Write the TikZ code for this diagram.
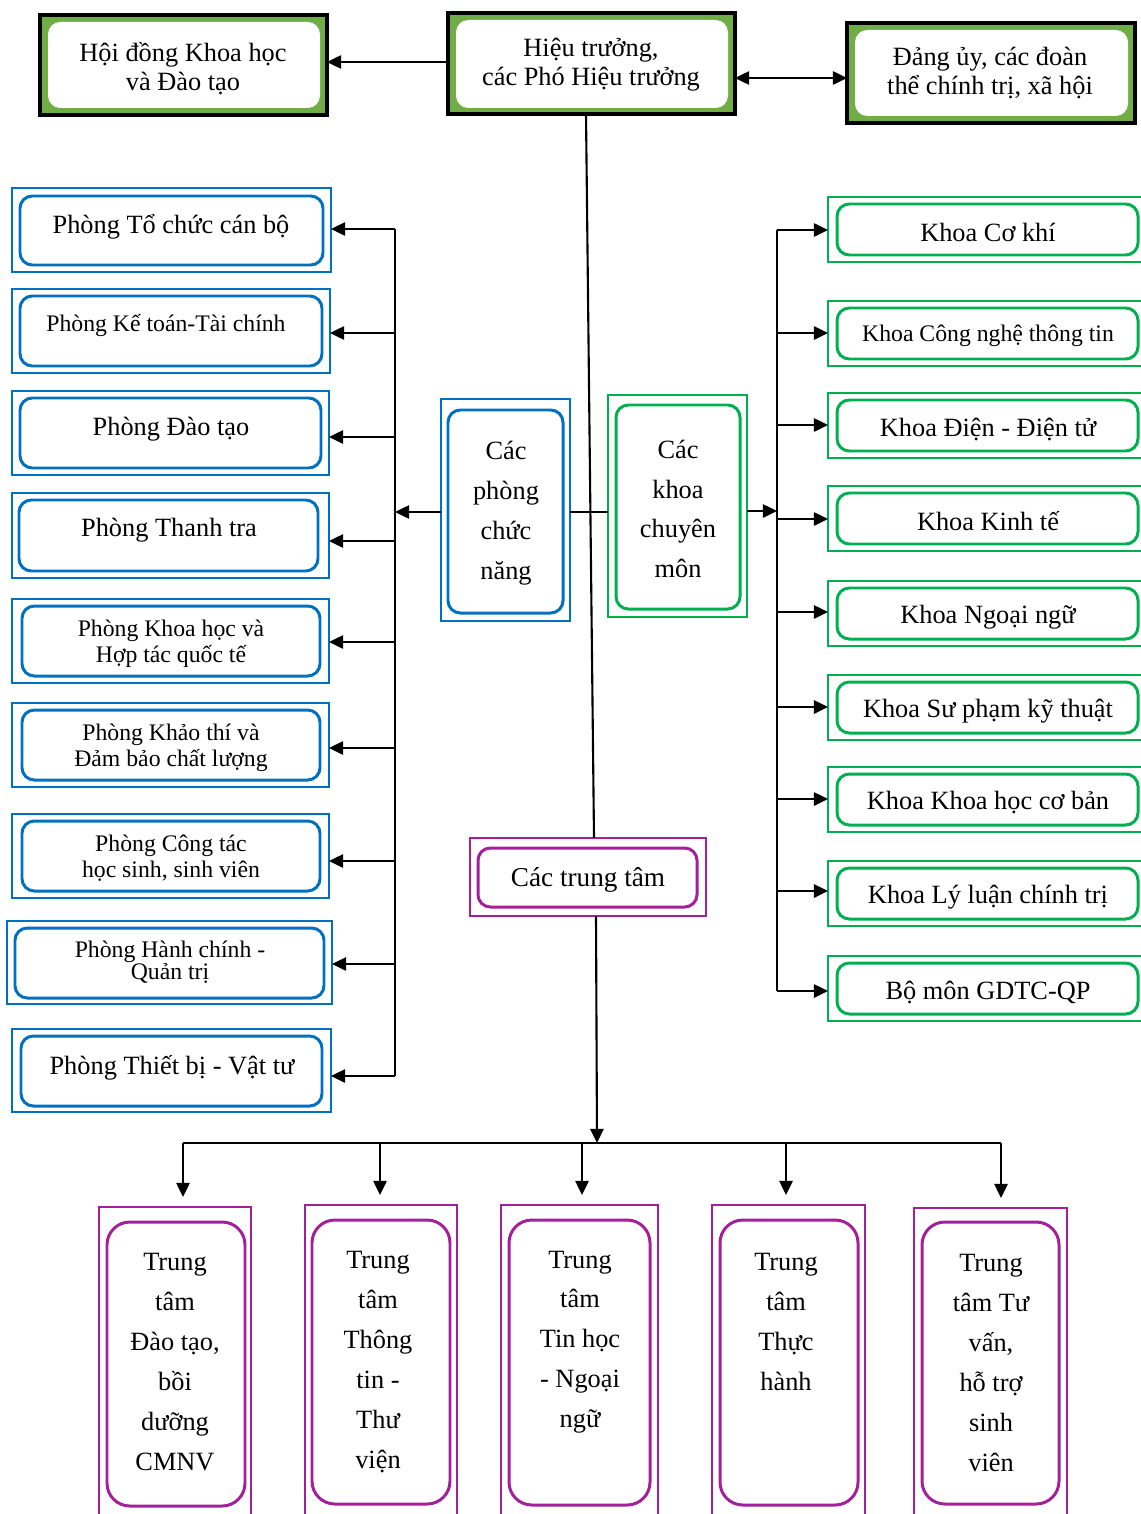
\documentclass[tikz,border=0pt]{standalone}
\usepackage{fontspec}
\setmainfont{Liberation Serif}
\usetikzlibrary{arrows.meta}
\definecolor{cblue}{HTML}{0070C0}
\definecolor{cgreen}{HTML}{00B050}
\definecolor{cpurple}{HTML}{A3209A}
\definecolor{tgreen}{HTML}{70AD47}
\newcommand\mybox[6]{\node[#6, minimum width={(#4-#2)*0.02cm}, minimum height={(#5-#3)*0.02cm}] (#1) at ({(#2+#4)/2},{(#3+#5)/2}) {};}
\tikzset{
 outerb/.style={draw=#1, line width=1.3pt, inner sep=0pt, outer sep=0pt},
 innerb/.style={draw=#1, line width=1.7pt, rounded corners=7pt, inner sep=0pt, outer sep=0pt},
 tallb/.style={draw=#1, line width=1.7pt, rounded corners=13pt, inner sep=0pt, outer sep=0pt},
 topouter/.style={draw=black, fill=tgreen, line width=1.8pt, inner sep=0pt, outer sep=0pt},
 topinner/.style={fill=white, rounded corners=7pt, inner sep=0pt, outer sep=0pt},
 arr/.style={line width=1.2pt, -{Triangle[length=8pt,width=7.5pt]}},
 darr/.style={line width=1.2pt, {Triangle[length=8pt,width=7.5pt]}-{Triangle[length=8pt,width=7.5pt]}},
 link/.style={line width=1.2pt},
 busline/.style={line width=0.9pt},
 lbl/.style={align=center, inner sep=0pt, yshift=-0.05cm, font=\fontsize{15}{16.5}\selectfont},
 sml/.style={align=center, inner sep=0pt, yshift=-0.05cm, font=\fontsize{13.5}{14.7}\selectfont},
 tall/.style={align=center, inner sep=0pt, font=\fontsize{15}{22.7}\selectfont},
}
\begin{document}
\begin{tikzpicture}[x=0.02cm,y=-0.02cm]
\useasboundingbox (0,0) rectangle (1141,1514);
% top boxes
\mybox{hd}{40}{15}{327}{115}{topouter}
\mybox{hdi}{48}{22}{320}{108}{topinner}
\node[lbl] (hdt) at (183,66) {Hội đồng Khoa học\\và Đào tạo};
\mybox{ht}{448}{13}{735}{114}{topouter}
\mybox{hti}{456}{20}{728}{108}{topinner}
\node[lbl] (htt) at (591,62) {Hiệu trưởng,\\các Phó Hiệu trưởng};
\mybox{du}{847}{23}{1135}{123}{topouter}
\mybox{dui}{855}{30}{1128}{116}{topinner}
\node[lbl] (dut) at (990,71) {Đảng ủy, các đoàn\\thể chính trị, xã hội};
% left boxes
\mybox{p1}{12}{188}{331}{272}{outerb=cblue}
\mybox{p1i}{20}{196}{323}{265}{innerb=cblue}
\node[lbl] (p1t) at (171,224) {Phòng Tổ chức cán bộ};
\mybox{p2}{12}{289}{330}{373}{outerb=cblue}
\mybox{p2i}{20}{296}{322}{366}{innerb=cblue}
\node[sml] (p2t) at (166,323) {Phòng Kế toán-Tài chính};
\mybox{p3}{12}{391}{329}{475}{outerb=cblue}
\mybox{p3i}{20}{398}{321}{468}{innerb=cblue}
\node[lbl] (p3t) at (171,427) {Phòng Đào tạo};
\mybox{p4}{12}{493}{329}{578}{outerb=cblue}
\mybox{p4i}{19}{500}{318}{571}{innerb=cblue}
\node[lbl] (p4t) at (169,528) {Phòng Thanh tra};
\mybox{p5}{12}{599}{329}{683}{outerb=cblue}
\mybox{p5i}{22}{606}{320}{676}{innerb=cblue}
\node[sml] (p5t) at (171,641) {Phòng Khoa học và\\Hợp tác quốc tế};
\mybox{p6}{12}{703}{329}{787}{outerb=cblue}
\mybox{p6i}{22}{710}{320}{780}{innerb=cblue}
\node[sml] (p6t) at (171,745) {Phòng Khảo thí và\\Đảm bảo chất lượng};
\mybox{p7}{12}{814}{329}{898}{outerb=cblue}
\mybox{p7i}{22}{821}{320}{891}{innerb=cblue}
\node[sml] (p7t) at (171,856) {Phòng Công tác\\học sinh, sinh viên};
\mybox{p8}{7}{921}{332}{1004}{outerb=cblue}
\mybox{p8i}{15}{928}{324}{998}{innerb=cblue}
\node[sml, font=\fontsize{13.5}{12.5}\selectfont] (p8t) at (170,960) {Phòng Hành chính -\\Quản trị};
\mybox{p9}{12}{1029}{331}{1112}{outerb=cblue}
\mybox{p9i}{21}{1036}{322}{1106}{innerb=cblue}
\node[lbl] (p9t) at (172,1065) {Phòng Thiết bị - Vật tư};
% middle boxes
\mybox{cp}{441}{399}{570}{621}{outerb=cblue}
\mybox{cpi}{448}{410}{563}{613}{innerb=cblue}
\node[tall] (cpt) at (506,513) {Các\\phòng\\chức\\năng};
\mybox{ck}{608}{395}{747}{617}{outerb=cgreen}
\mybox{cki}{616}{405}{740}{609}{innerb=cgreen}
\node[tall] (ckt) at (678,509) {Các\\khoa\\chuyên\\môn};
\mybox{ct}{470}{838}{706}{916}{outerb=cpurple}
\mybox{cti}{478}{848}{697}{907}{innerb=cpurple}
\node[lbl, font=\fontsize{15.5}{17}\selectfont] (ctt) at (588,877) {Các trung tâm};
% right boxes
\mybox{k1}{828}{197}{1146}{262}{outerb=cgreen}
\mybox{k1i}{837}{204}{1138}{255}{innerb=cgreen}
\node[lbl] (k1t) at (988,230) {Khoa Cơ khí};
\mybox{k2}{828}{301}{1146}{366}{outerb=cgreen}
\mybox{k2i}{837}{308}{1138}{359}{innerb=cgreen}
\node[sml] (k2t) at (988,333) {Khoa Công nghệ thông tin};
\mybox{k3}{828}{393}{1146}{458}{outerb=cgreen}
\mybox{k3i}{837}{400}{1138}{451}{innerb=cgreen}
\node[lbl] (k3t) at (988,427) {Khoa Điện - Điện tử};
\mybox{k4}{828}{486}{1146}{551}{outerb=cgreen}
\mybox{k4i}{837}{493}{1138}{544}{innerb=cgreen}
\node[lbl] (k4t) at (988,519) {Khoa Kinh tế};
\mybox{k5}{828}{581}{1146}{646}{outerb=cgreen}
\mybox{k5i}{837}{588}{1138}{639}{innerb=cgreen}
\node[lbl] (k5t) at (988,615) {Khoa Ngoại ngữ};
\mybox{k6}{828}{675}{1146}{740}{outerb=cgreen}
\mybox{k6i}{837}{682}{1138}{733}{innerb=cgreen}
\node[lbl] (k6t) at (988,709) {Khoa Sư phạm kỹ thuật};
\mybox{k7}{828}{767}{1146}{832}{outerb=cgreen}
\mybox{k7i}{837}{774}{1138}{825}{innerb=cgreen}
\node[lbl] (k7t) at (988,800) {Khoa Khoa học cơ bản};
\mybox{k8}{828}{861}{1146}{926}{outerb=cgreen}
\mybox{k8i}{837}{868}{1138}{919}{innerb=cgreen}
\node[lbl] (k8t) at (988,895) {Khoa Lý luận chính trị};
\mybox{k9}{828}{956}{1146}{1021}{outerb=cgreen}
\mybox{k9i}{837}{963}{1138}{1014}{innerb=cgreen}
\node[lbl] (k9t) at (988,990) {Bộ môn GDTC-QP};
% bottom boxes
\mybox{b1}{99}{1207}{251}{1530}{outerb=cpurple}
\mybox{b1i}{107}{1222}{245}{1506}{tallb=cpurple}
\node[tall] (b1t) at (175,1362) {Trung\\tâm\\Đào tạo,\\bồi\\dưỡng\\CMNV};
\mybox{b2}{305}{1205}{457}{1530}{outerb=cpurple}
\mybox{b2i}{312}{1220}{450}{1504}{tallb=cpurple}
\node[tall] (b2t) at (378,1362) {Trung\\tâm\\Thông\\tin -\\Thư\\viện};
\mybox{b3}{501}{1205}{658}{1530}{outerb=cpurple}
\mybox{b3i}{509}{1220}{650}{1505}{tallb=cpurple}
\node[tall] (b3t) at (580,1342) {Trung\\tâm\\Tin học\\- Ngoại\\ngữ};
\mybox{b4}{712}{1205}{865}{1530}{outerb=cpurple}
\mybox{b4i}{720}{1220}{858}{1505}{tallb=cpurple}
\node[tall] (b4t) at (786,1322) {Trung\\tâm\\Thực\\hành};
\mybox{b5}{914}{1208}{1067}{1530}{outerb=cpurple}
\mybox{b5i}{922}{1222}{1059}{1504}{tallb=cpurple}
\node[tall] (b5t) at (991,1363) {Trung\\tâm Tư\\vấn,\\hỗ trợ\\sinh\\viên};
% connectors top
\draw[arr] (ht.west |- 0,62) -- (hd.east |- 0,62);
\draw[darr] (ht.east |- 0,78) -- (du.west |- 0,78);
\draw[link] (ht.south -| 586,0) -- (ct.north -| 594,0);
\coordinate (hub) at (597,1143);
\draw[arr] (ct.south -| 596,0) -- (hub);
% left
\coordinate (lx) at (395,512);
\draw[busline] (lx |- 0,229) -- (lx |- 0,1076);
\foreach \i/\y in {1/229,2/333,3/437,4/541,5/642,6/748,7/861,8/964,9/1076} {\draw[arr] (lx |- 0,\y) -- (p\i.east |- 0,\y);}
\draw[arr] (cp.west |- lx) -- (lx);
\draw[link] (cp.east |- lx) -- (ck.west |- lx);
% right
\coordinate (rx) at (777,511);
\draw[arr] (ck.east |- rx) -- (rx);
\draw[busline] (rx |- 0,230) -- (rx |- 0,991);
\foreach \i/\y in {1/230,2/333,3/425,4/519,5/612,6/707,7/799,8/891,9/991} {\draw[arr] (rx |- 0,\y) -- (k\i.west |- 0,\y);}
% bottom
\coordinate (d1) at (183,1143);
\coordinate (d2) at (380,1143);
\coordinate (d3) at (582,1143);
\coordinate (d4) at (786,1143);
\coordinate (d5) at (1001,1143);
\draw[busline] (d1) -- (d5);
\foreach \i in {1,...,5} {\draw[arr, shorten >=5.7pt] (d\i) -- (d\i |- b\i.north);}
\end{tikzpicture}
\end{document}
